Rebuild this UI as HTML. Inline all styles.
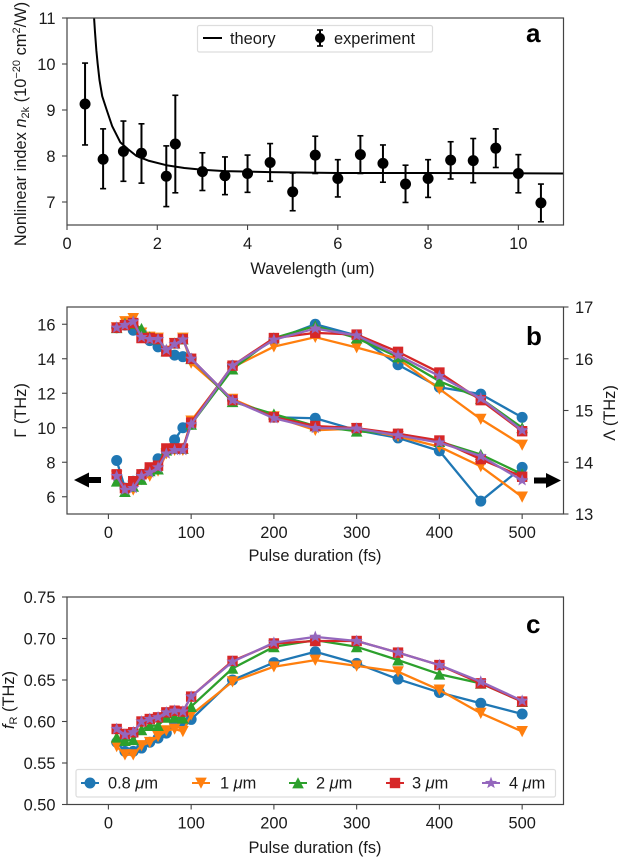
<!DOCTYPE html>
<html lang="en">
<head>
<meta charset="utf-8">
<title>Nonlinear index and pulse duration charts</title>
<style>
html,body{margin:0;padding:0;background:#fff}
svg{display:block}
text{font-family:"Liberation Sans",sans-serif;font-size:16.4px;fill:#1a1a1a}
.bold{font-weight:bold;font-size:26px;fill:#000}
.spine{fill:none;stroke:#444;stroke-width:1.2}
.legend-box{fill:#fff;stroke:#ddd;stroke-width:1.2}
</style>
</head>
<body>
<svg id="figure" xmlns="http://www.w3.org/2000/svg" width="618" height="857" viewBox="0 0 618 857">
  <defs>
    <clipPath id="clip-a"><rect x="67" y="18" width="496.5" height="207"/></clipPath>
  </defs>

  <!-- Panel a -->
  <g id="panel-a">
    <g id="marks-a"></g>
    <rect class="spine" x="67" y="18" width="496.5" height="207"/>
    <g id="ticks-a"></g>
    <text x="312.5" y="274" text-anchor="middle">Wavelength (um)</text>
    <text transform="translate(26,124) rotate(-90)" text-anchor="middle">Nonlinear index <tspan font-style="italic">n</tspan><tspan font-size="11" dy="3">2k</tspan><tspan dy="-3"> (10</tspan><tspan font-size="11" dy="-6">−20</tspan><tspan dy="6"> cm</tspan><tspan font-size="11" dy="-6">2</tspan><tspan dy="6">/W)</tspan></text>
    <text class="bold" x="526" y="42">a</text>
    <g>
      <rect class="legend-box" x="197.5" y="25.5" width="235" height="26.5" rx="2"/>
      <line x1="203" y1="38" x2="222" y2="38" stroke="#000" stroke-width="2"/>
      <text x="230" y="44">theory</text>
      <line x1="320" y1="30" x2="320" y2="46" stroke="#000" stroke-width="2"/>
      <line x1="317" y1="30" x2="323" y2="30" stroke="#000" stroke-width="1.6"/>
      <line x1="317" y1="46" x2="323" y2="46" stroke="#000" stroke-width="1.6"/>
      <circle cx="320" cy="38" r="5"/>
      <text x="334" y="44">experiment</text>
    </g>
  </g>

  <!-- Panel b -->
  <g id="panel-b">
    <g id="marks-b"></g>
    <rect class="spine" x="67" y="307" width="496.5" height="207"/>
    <g id="ticks-b"></g>
    <text x="315" y="561" text-anchor="middle">Pulse duration (fs)</text>
    <text transform="translate(26,410.5) rotate(-90)" text-anchor="middle">Γ (THz)</text>
    <text transform="translate(615,413) rotate(-90)" text-anchor="middle">Λ (THz)</text>
    <text class="bold" x="526" y="345">b</text>
    <path d="M74 480 L89 472.5 L89 477 L101 477 L101 483 L89 483 L89 487.5 Z" fill="#000"/>
    <path d="M561 480.5 L546 473 L546 477.5 L534 477.5 L534 483.5 L546 483.5 L546 488 Z" fill="#000"/>
  </g>

  <!-- Panel c -->
  <g id="panel-c">
    <g id="marks-c"></g>
    <rect class="spine" x="67" y="597" width="496.5" height="207.5"/>
    <g id="ticks-c"></g>
    <text x="315" y="853" text-anchor="middle">Pulse duration (fs)</text>
    <text transform="translate(14,700) rotate(-90)" text-anchor="middle"><tspan font-style="italic">f</tspan><tspan font-size="11" dy="3">R</tspan><tspan dy="-3"> (THz)</tspan></text>
    <text class="bold" x="526" y="633">c</text>
    <g>
      <rect class="legend-box" x="76" y="769.5" width="479.5" height="27.5" rx="2"/>
      <g id="legend-handles"></g>
      <text x="108" y="788.5">0.8 <tspan font-style="italic">μ</tspan>m</text>
      <text x="220" y="788.5">1 <tspan font-style="italic">μ</tspan>m</text>
      <text x="316" y="788.5">2 <tspan font-style="italic">μ</tspan>m</text>
      <text x="412" y="788.5">3 <tspan font-style="italic">μ</tspan>m</text>
      <text x="509" y="788.5">4 <tspan font-style="italic">μ</tspan>m</text>
    </g>
  </g>
</svg>

<script>
// ---------- Panel a data ----------
const expWavelength = [0.4,0.8,1.25,1.65,2.2,2.4,3,3.5,4,4.5,5,5.5,6,6.5,7,7.5,8,8.5,9,9.5,10,10.5];
const expIndex = [9.13,7.93,8.1,8.06,7.56,8.26,7.66,7.57,7.62,7.86,7.22,8.02,7.51,8.03,7.84,7.39,7.51,7.91,7.9,8.17,7.62,6.98];
const expLow = [8.24,7.29,7.45,7.41,6.9,7.2,7.25,7.16,7.21,7.45,6.81,7.62,7.11,7.62,7.43,6.99,7.1,7.5,7.42,7.75,7.2,6.57];
const expHigh = [10.02,8.59,8.76,8.7,8.22,9.32,8.07,7.98,8.02,8.27,7.63,8.43,7.92,8.44,8.24,7.8,7.92,8.31,8.38,8.59,8.03,7.39];
const theoryWavelength = [0.6,0.62,0.65,0.68,0.72,0.78,0.88,1.0,1.18,1.35,1.54,1.8,2.2,2.6,3,3.5,4.5,6,8,11];
const theoryIndex = [11,10.7,10.3,10,9.65,9.3,9,8.65,8.3,8.15,8,7.9,7.8,7.74,7.7,7.67,7.65,7.63,7.63,7.62];
const ticksAX = [0,2,4,6,8,10];
const ticksAY = [7,8,9,10,11];

// ---------- Panels b and c data ----------
const pulseDuration = [10,20,30,40,50,60,70,80,90,100,150,200,250,300,350,400,450,500];
const seriesNames = ['0.8um','1um','2um','3um','4um'];
const seriesColors = ['#1f77b4','#ff7f0e','#2ca02c','#d62728','#9467bd'];
const seriesMarkers = ['circle','down','up','square','star'];

const gamma08 = [8.1,6.5,6.9,7.3,7.6,8.2,8.7,9.3,10,10.2,13.6,15.1,16,15.35,13.65,12.35,11.95,10.6];
const gamma1 = [7.2,6.4,6.4,7,7.2,7.5,8.5,8.7,8.7,10.4,13.5,14.7,15.25,14.65,14,12.25,10.5,9];
const gamma2 = [6.9,6.3,6.6,7,7.5,7.6,8.7,8.8,8.8,10.2,13.4,15.2,15.9,15.2,14.1,12.7,11.7,10];
const gamma3 = [7.3,6.5,6.9,7.3,7.7,7.8,8.8,8.8,8.8,10.3,13.6,15.2,15.5,15.4,14.4,13.2,11.6,9.8];
const gamma4 = [7.2,6.4,6.5,7.2,7.4,7.7,8.5,8.7,8.7,10.2,13.6,15.1,15.75,15.35,14.2,13,11.7,9.85];

const lambda08 = [16.6,16.65,16.55,16.5,16.35,16.23,16.15,16.07,16.04,16,15.2,14.87,14.85,14.62,14.47,14.22,13.25,13.9];
const lambda1 = [16.6,16.72,16.78,16.5,16.42,16.4,16.15,16.3,16.4,15.92,15.22,14.88,14.62,14.65,14.5,14.3,13.92,13.33];
const lambda2 = [16.6,16.68,16.68,16.58,16.42,16.38,16.15,16.3,16.38,16,15.17,14.93,14.7,14.6,14.55,14.4,14.15,13.77];
const lambda3 = [16.6,16.65,16.69,16.4,16.4,16.38,16.14,16.3,16.38,16,15.2,14.87,14.7,14.66,14.55,14.42,14.06,13.72];
const lambda4 = [16.6,16.65,16.72,16.42,16.38,16.38,16.17,16.28,16.37,16,15.2,14.85,14.66,14.65,14.52,14.38,14.12,13.65];

const freq08 = [0.575,0.564,0.564,0.568,0.575,0.58,0.586,0.598,0.599,0.6025,0.65,0.671,0.684,0.67,0.651,0.635,0.622,0.609];
const freq1 = [0.57,0.56,0.56,0.571,0.575,0.582,0.589,0.591,0.588,0.608,0.648,0.666,0.674,0.667,0.66,0.638,0.61,0.588];
const freq2 = [0.581,0.577,0.578,0.59,0.595,0.595,0.605,0.605,0.604,0.618,0.664,0.69,0.698,0.69,0.674,0.657,0.646,0.624];
const freq3 = [0.591,0.585,0.587,0.6,0.603,0.605,0.611,0.613,0.612,0.63,0.673,0.694,0.697,0.697,0.683,0.668,0.646,0.624];
const freq4 = [0.591,0.584,0.587,0.6,0.603,0.605,0.611,0.613,0.612,0.63,0.672,0.695,0.702,0.697,0.683,0.668,0.648,0.625];

const gammaSeries = [gamma08,gamma1,gamma2,gamma3,gamma4];
const lambdaSeries = [lambda08,lambda1,lambda2,lambda3,lambda4];
const freqSeries = [freq08,freq1,freq2,freq3,freq4];

const ticksPulse = [0,100,200,300,400,500];
const ticksGamma = [6,8,10,12,14,16];
const ticksLambda = [13,14,15,16,17];
const ticksFreq = [0.5,0.55,0.6,0.65,0.7,0.75];

// ---------- Axis functions ----------
const xWave = v => 67 + v * 45.136;
const yIndex = v => 202 - (v - 7) * 46;
const xPulse = v => 108.4 + v * 0.8275;
const yGamma = v => 514 - (v - 5) * 17.25;
const yLambda = v => 514 - (v - 13) * 51.75;
const yFreq = v => 804.5 - (v - 0.5) * 830;

const NS = 'http://www.w3.org/2000/svg';
function make(tag, parent, attrs) {
  const el = document.createElementNS(NS, tag);
  for (const k in attrs) el.setAttribute(k, attrs[k]);
  parent.appendChild(el);
  return el;
}

function markerEl(kind, cx, cy, color, parent, name) {
  let el;
  if (kind === 'circle') {
    el = make('circle', parent, {cx: cx, cy: cy, r: 5.5, fill: color});
  } else if (kind === 'square') {
    el = make('rect', parent, {x: cx - 5.2, y: cy - 5.2, width: 10.4, height: 10.4, fill: color});
  } else if (kind === 'down') {
    el = make('path', parent, {d: `M${cx-5.8} ${cy-5.4}L${cx+5.8} ${cy-5.4}L${cx} ${cy+5.8}Z`, fill: color});
  } else if (kind === 'up') {
    el = make('path', parent, {d: `M${cx-5.8} ${cy+5.4}L${cx+5.8} ${cy+5.4}L${cx} ${cy-5.8}Z`, fill: color});
  } else {
    let d = '';
    for (let i = 0; i < 10; i++) {
      const r = i % 2 ? 2.7 : 6.4;
      const a = -Math.PI / 2 + i * Math.PI / 5;
      d += (i ? 'L' : 'M') + (cx + r * Math.cos(a)).toFixed(2) + ' ' + (cy + r * Math.sin(a)).toFixed(2);
    }
    el = make('path', parent, {d: d + 'Z', fill: color});
  }
  
  
  return el;
}

function tickX(parent, v, px, yBase, panel) {
  const t = make('line', parent, {x1: px, x2: px, y1: yBase, y2: yBase + 5, stroke: '#444', 'stroke-width': 1.1});
  
  
  const s = make('text', parent, {x: px, y: yBase + 24, 'text-anchor': 'middle'});
  s.textContent = String(v);
  
  
}

function tickY(parent, label, py, xBase, dir, panel) {
  const t = make('line', parent, {x1: xBase, x2: xBase + dir * 5, y1: py, y2: py, stroke: '#444', 'stroke-width': 1.1});
  
  
  const s = make('text', parent, {x: xBase + dir * 11.5, y: py + 6, 'text-anchor': dir < 0 ? 'end' : 'start'});
  s.textContent = label;
  
  
}

function drawSeries(parent, xs, ys, xFn, yFn, idx, prefix) {
  const color = seriesColors[idx];
  const line = make('polyline', parent, {
    points: xs.map((x, i) => xFn(x).toFixed(2) + ',' + yFn(ys[i]).toFixed(2)).join(' '),
    fill: 'none', stroke: color, 'stroke-width': 2.3, 'stroke-linejoin': 'round'
  });
  
  
  xs.forEach((x, i) => {
    markerEl(seriesMarkers[idx], xFn(x), yFn(ys[i]), color, parent, prefix + '-point-' + seriesNames[idx]);
  });
}

// ---------- Panel a ----------
const marksA = document.getElementById('marks-a');
const theoryLine = make('polyline', marksA, {
  points: theoryWavelength.map((x, i) => xWave(x).toFixed(2) + ',' + yIndex(theoryIndex[i]).toFixed(2)).join(' '),
  fill: 'none', stroke: '#000', 'stroke-width': 2, 'stroke-linejoin': 'round', 'clip-path': 'url(#clip-a)'
});



expWavelength.forEach((x, i) => {
  const px = xWave(x);
  const bar = make('line', marksA, {x1: px, x2: px, y1: yIndex(expLow[i]), y2: yIndex(expHigh[i]), stroke: '#000', 'stroke-width': 2});
  
  
  [expLow[i], expHigh[i]].forEach(v => {
    const cap = make('line', marksA, {x1: px - 3, x2: px + 3, y1: yIndex(v), y2: yIndex(v), stroke: '#000', 'stroke-width': 1.6});
    
    
  });
  markerEl('circle', px, yIndex(expIndex[i]), '#000', marksA, 'experiment-point');
});

const ticksA = document.getElementById('ticks-a');
ticksAX.forEach(v => tickX(ticksA, v, xWave(v), 225, 'panel-a'));
ticksAY.forEach(v => tickY(ticksA, String(v), yIndex(v), 67, -1, 'panel-a'));

// ---------- Panel b ----------
const marksB = document.getElementById('marks-b');
gammaSeries.forEach((ys, i) => drawSeries(marksB, pulseDuration, ys, xPulse, yGamma, i, 'gamma'));
lambdaSeries.forEach((ys, i) => drawSeries(marksB, pulseDuration, ys, xPulse, yLambda, i, 'lambda'));

const ticksB = document.getElementById('ticks-b');
ticksPulse.forEach(v => tickX(ticksB, v, xPulse(v), 514, 'panel-b'));
ticksGamma.forEach(v => tickY(ticksB, String(v), yGamma(v), 67, -1, 'panel-b-left'));
ticksLambda.forEach(v => tickY(ticksB, String(v), yLambda(v), 563.5, 1, 'panel-b-right'));

// ---------- Panel c ----------
const marksC = document.getElementById('marks-c');
freqSeries.forEach((ys, i) => drawSeries(marksC, pulseDuration, ys, xPulse, yFreq, i, 'frequency'));

const ticksC = document.getElementById('ticks-c');
ticksPulse.forEach(v => tickX(ticksC, v, xPulse(v), 804.5, 'panel-c'));
ticksFreq.forEach(v => tickY(ticksC, v.toFixed(2), yFreq(v), 67, -1, 'panel-c'));

// ---------- Panel c legend handles ----------
const legendHandles = document.getElementById('legend-handles');
const legendColumns = [90, 201, 298, 395, 491];
legendColumns.forEach((cx, i) => {
  const h = make('line', legendHandles, {x1: cx - 9, x2: cx + 9, y1: 783, y2: 783, stroke: seriesColors[i], 'stroke-width': 2.1});
  
  
  markerEl(seriesMarkers[i], cx, 783, seriesColors[i], legendHandles, 'legend-marker-' + seriesNames[i]);
});
</script>
</body>
</html>
